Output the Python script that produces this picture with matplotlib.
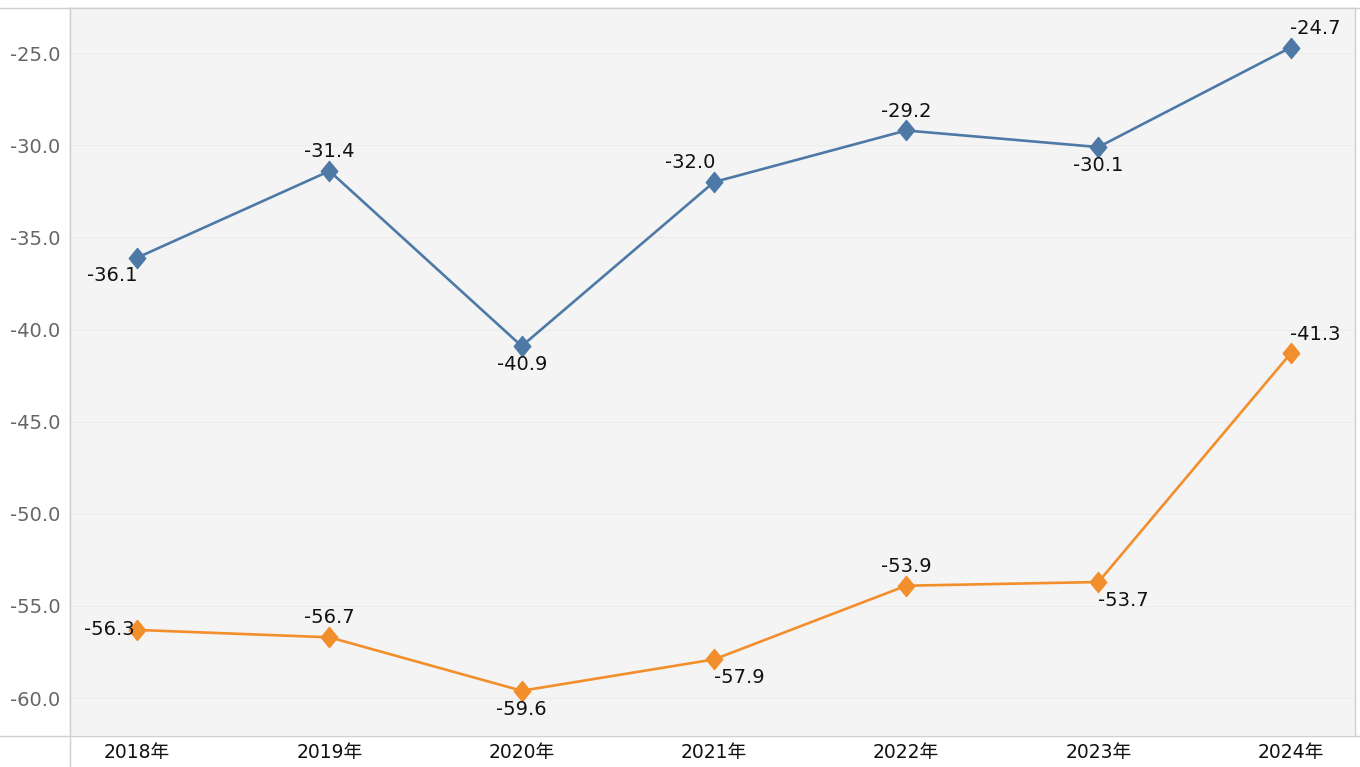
import matplotlib
matplotlib.use("Agg")
import matplotlib.pyplot as plt
from matplotlib.path import Path
from matplotlib.lines import Line2D

years = ["2018年", "2019年", "2020年", "2021年", "2022年", "2023年", "2024年"]
series_blue = [-36.1, -31.4, -40.9, -32.0, -29.2, -30.1, -24.7]
series_orange = [-56.3, -56.7, -59.6, -57.9, -53.9, -53.7, -41.3]
y_ticks = [-25.0, -30.0, -35.0, -40.0, -45.0, -50.0, -55.0, -60.0]

# label placement (direction codes)
place_blue = ["bl", "t", "b", "tl", "t", "b", "tr"]
place_orange = ["l", "t", "b", "br", "t", "br", "tr"]

FONT = ["DejaVu Sans", "Noto Sans CJK JP"]
plt.rcParams["font.family"] = FONT

BLUE = "#4e79a7"
ORANGE = "#f28e2b"

fig = plt.figure(figsize=(13.6, 7.67), dpi=100)
ax = fig.add_axes([69/1360, 1-735/767, (1355-69)/1360, (735-7)/767])
ax.set_facecolor("#f4f4f4")

diamond = Path([(0, 1), (0.82, 0), (0, -1), (-0.82, 0), (0, 1)],
               [Path.MOVETO, Path.LINETO, Path.LINETO, Path.LINETO, Path.CLOSEPOLY])

x = list(range(len(years)))
ax.plot(x, series_blue, color=BLUE, lw=1.9, marker=diamond, ms=14.5, zorder=3)
ax.plot(x, series_orange, color=ORANGE, lw=1.9, marker=diamond, ms=14.5, zorder=3)

offs = {"t": (0, 14, "center", "center"), "b": (0, -13.5, "center", "center"),
        "tl": (-17, 14, "center", "center"), "tr": (18, 14, "center", "center"),
        "bl": (-18, -13, "center", "center"), "br": (18, -13, "center", "center"),
        "l": (-2, 0, "right", "center")}

for vals, places in ((series_blue, place_blue), (series_orange, place_orange)):
    for i, (v, p) in enumerate(zip(vals, places)):
        dx, dy, ha, va = offs[p]
        ax.annotate(f"{v:.1f}", (i, v), xytext=(dx, dy), textcoords="offset points",
                    ha=ha, va=va, fontsize=14, color="#111111", zorder=4)

ax.set_xlim(-0.355, 6.335)
ax.set_ylim(-62.0, -22.5)
ax.set_xticks(x)
ax.set_xticklabels(years, fontsize=13.5, color="#111111")
ax.set_yticks(y_ticks)
ax.set_yticklabels([f"{t:.1f}" for t in y_ticks], fontsize=14, color="#666666")
ax.tick_params(axis="both", length=0)
ax.tick_params(axis="x", pad=6)
ax.tick_params(axis="y", pad=6)
ax.grid(axis="y", color="#ececec", lw=0.8)
ax.set_axisbelow(True)
for s in ax.spines.values():
    s.set_visible(False)

lc = "#cfcfcf"
fig.add_artist(Line2D([0, 1], [1-7.5/767, 1-7.5/767], color=lc, lw=1, transform=fig.transFigure))
fig.add_artist(Line2D([0, 1], [1-735.5/767, 1-735.5/767], color=lc, lw=1, transform=fig.transFigure))
fig.add_artist(Line2D([69.5/1360, 69.5/1360], [0, 1-7.5/767], color=lc, lw=1, transform=fig.transFigure))
fig.add_artist(Line2D([1355/1360, 1355/1360], [1-735.5/767, 1-7.5/767], color=lc, lw=1, transform=fig.transFigure))

fig.savefig("out.png", dpi=100)
